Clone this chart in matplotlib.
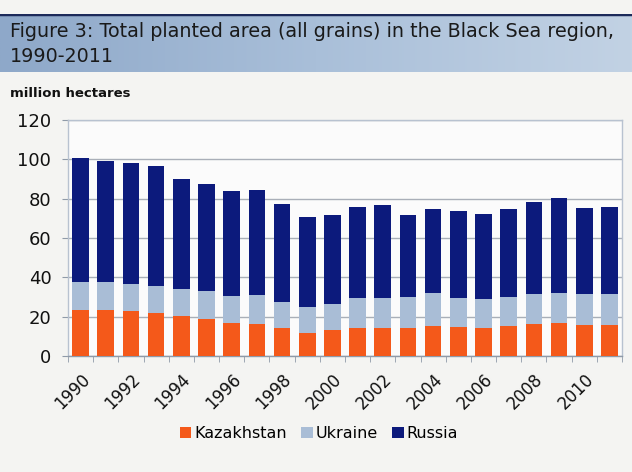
import numpy as np
import matplotlib.pyplot as plt
from matplotlib.colors import LinearSegmentedColormap

# planted area, million hectares
years = list(range(1990, 2012))
kazakhstan = [23.4, 23.4, 23.0, 21.8, 20.3, 18.7, 17.0, 16.1, 14.0, 11.8, 13.3,
              14.1, 14.3, 14.3, 15.0, 14.5, 14.0, 15.3, 16.5, 16.7, 16.0, 16.0]
ukraine = [14.4, 14.4, 13.4, 14.0, 13.8, 14.2, 13.7, 15.1, 13.5, 13.1, 13.3,
           15.4, 15.2, 15.6, 16.9, 14.9, 14.9, 14.9, 15.1, 15.4, 15.3, 15.7]
russia = [62.7, 61.2, 61.9, 61.0, 55.9, 54.4, 53.3, 53.3, 50.0, 45.6, 44.9,
          46.3, 47.1, 41.7, 42.6, 44.1, 43.4, 44.3, 46.7, 48.4, 43.7, 44.0]

c_kaz = '#f4591a'
c_ukr = '#a9bdd6'
c_rus = '#0c1a7c'

fig = plt.figure(figsize=(6.32, 4.72), dpi=100)
fig.patch.set_facecolor('#f4f4f2')

# title band
band = fig.add_axes([0.0, 0.8475, 1.0, 0.1228])
grad = np.linspace(0, 1, 256).reshape(1, -1)
cm = LinearSegmentedColormap.from_list('band', ['#8ea8c9', '#a9bfd9', '#c2d2e4'])
band.imshow(grad, aspect='auto', cmap=cm, extent=[0, 1, 0, 1])
band.set_xlim(0, 1)
band.set_ylim(0, 1)
band.axis('off')
band.axhline(1.0, color='#1c2a5a', lw=2.5)
band.text(0.016, 0.69, 'Figure 3: Total planted area (all grains) in the Black Sea region,',
          fontsize=13.8, color='#1a1a1a', va='center', ha='left')
band.text(0.016, 0.26, '1990-2011', fontsize=13.8, color='#1a1a1a', va='center', ha='left')

fig.text(0.016, 0.801, 'million hectares', fontsize=9.5, color='#111111',
         fontweight='semibold', va='center')

ax = fig.add_axes([0.1076, 0.2458, 0.8766, 0.5])
ax.set_facecolor('#fbfbfb')
x = np.arange(len(years))
kaz = np.array(kazakhstan)
ukr = np.array(ukraine)
rus = np.array(russia)
w = 0.66
ax.bar(x, kaz, w, color=c_kaz, label='Kazakhstan', zorder=3)
ax.bar(x, ukr, w, bottom=kaz, color=c_ukr, label='Ukraine', zorder=3)
ax.bar(x, rus, w, bottom=kaz + ukr, color=c_rus, label='Russia', zorder=3)

ax.set_xlim(-0.5, len(years) - 0.5)
ax.set_ylim(0, 120)
ax.set_yticks(range(0, 121, 20))
ax.yaxis.grid(True, color='#a9afb8', lw=1.0, zorder=0)
for s in ax.spines.values():
    s.set_color('#b8c2d0')
    s.set_linewidth(1.0)
ax.spines['bottom'].set_color('#8f9aa8')

ax.set_xticks(x[::2])
ax.set_xticklabels([str(y) for y in years[::2]], rotation=45, ha='right',
                   rotation_mode='anchor', fontsize=12)
ax.set_xticks(np.arange(-0.5, len(years), 1), minor=True)
ax.tick_params(axis='x', which='major', length=0, pad=10, colors='#111111')
ax.tick_params(axis='x', which='minor', length=4, color='#8f9aa8')
ax.tick_params(axis='y', length=4, color='#8f9aa8', labelsize=13, pad=8,
               labelcolor='#111111')

fig.legend(loc='lower center', bbox_to_anchor=(0.505, 0.035), ncol=3, frameon=False,
           fontsize=11.5, handlelength=0.7, handleheight=0.7, handletextpad=0.2,
           columnspacing=0.9)

plt.savefig('out.png', dpi=100, facecolor=fig.get_facecolor())
